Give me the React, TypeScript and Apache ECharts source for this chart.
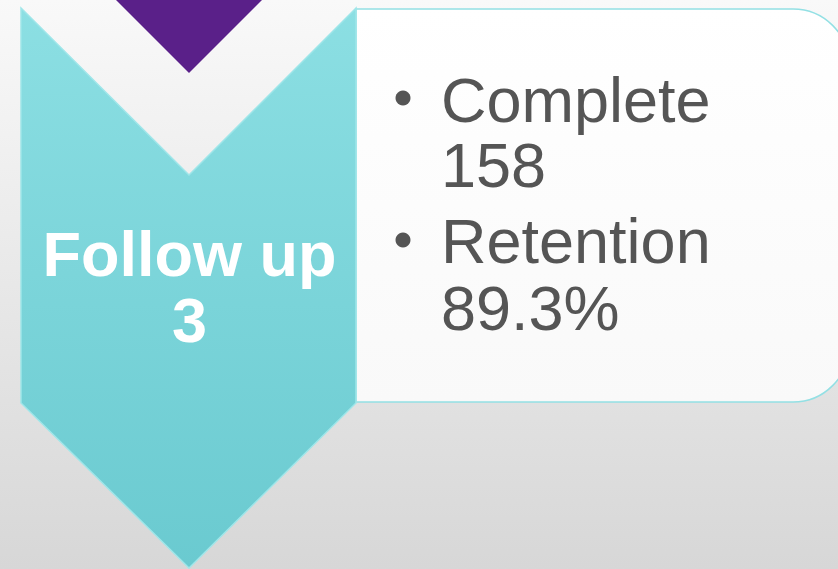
import React, { useEffect, useRef } from "react";
import * as echarts from "echarts";

const stageLines = ["Follow up", "3"];
const itemLabels = ["Complete", "Retention"];
const itemValues = ["158", "89.3%"];

const W = 838;
const H = 569;
const FONT = "'Liberation Sans', Arial, sans-serif";

export default function App() {
  const ref = useRef<HTMLDivElement>(null);
  useEffect(() => {
    document.body.style.margin = "0";
    const chart = echarts.init(ref.current!, null, { renderer: "svg", width: W, height: H });
    const G = echarts.graphic;
    const elements: any[] = [];
    // background
    elements.push({
      type: "rect",
      shape: { x: 0, y: 0, width: W, height: H },
      style: { fill: new G.LinearGradient(0, 0, 0, 1, [{ offset: 0, color: "#f9f9f9" }, { offset: 1, color: "#d7d7d7" }]) },
      silent: true,
    });
    // purple chevron tip from above
    elements.push({
      type: "polygon",
      shape: { points: [[116, 0], [262, 0], [189, 73]] },
      style: { fill: "#5a2089" },
    });
    // white box
    elements.push({
      type: "rect",
      shape: { x: 356, y: 9, width: 493, height: 393, r: [0, 56, 56, 0] },
      style: {
        fill: new G.LinearGradient(0, 0, 0, 1, [{ offset: 0, color: "#ffffff" }, { offset: 1, color: "#f9f9f9" }]),
        stroke: "#93e0e4",
        lineWidth: 1.5,
      },
    });
    // cyan chevron
    elements.push({
      type: "polygon",
      shape: { points: [[21, 8], [189, 175], [356, 8], [356, 403], [189, 568], [21, 403]] },
      style: {
        fill: new G.LinearGradient(0, 0, 0, 1, [{ offset: 0, color: "#8cdfe3" }, { offset: 1, color: "#6acad0" }]),
        stroke: "#9fe6e9",
        lineWidth: 1.5,
      },
    });
    // stage label
    const stageY = [254, 320];
    stageLines.forEach((t, i) => {
      elements.push({
        type: "text",
        x: 189.5,
        y: stageY[i],
        style: { text: t, font: `bold 63px ${FONT}`, fill: "#ffffff", align: "center", verticalAlign: "middle" },
      });
    });
    // bullet items
    const labelY = [100, 241];
    const valueY = [165, 308];
    const bulletY = [98, 240];
    itemLabels.forEach((t, i) => {
      elements.push({
        type: "circle",
        shape: { cx: 403, cy: bulletY[i], r: 7.5 },
        style: { fill: "#555555" },
      });
      elements.push({
        type: "text",
        x: 441,
        y: labelY[i],
        style: { text: t, font: `63px ${FONT}`, fill: "#555555", align: "left", verticalAlign: "middle" },
      });
      elements.push({
        type: "text",
        x: 441,
        y: valueY[i],
        style: { text: itemValues[i], font: `63px ${FONT}`, fill: "#555555", align: "left", verticalAlign: "middle" },
      });
    });
    chart.setOption({ animation: false, graphic: { elements } });
    return () => chart.dispose();
  }, []);
  return <div ref={ref} style={{ width: W, height: H }} />;
}
